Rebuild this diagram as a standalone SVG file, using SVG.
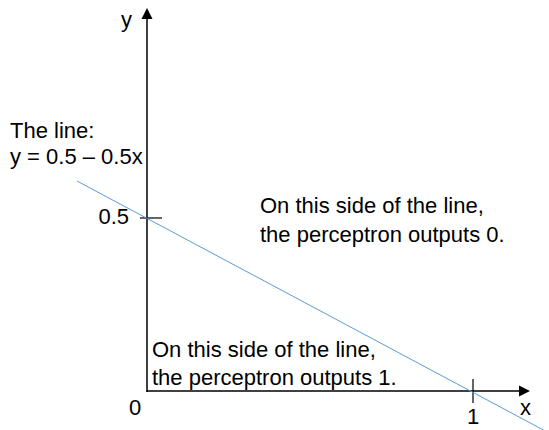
<svg xmlns="http://www.w3.org/2000/svg" width="549" height="430" viewBox="0 0 549 430">
<defs>
<style>
text{font-family:"Liberation Sans",Arial,sans-serif;font-size:22px;fill:#000}
.axis{stroke:#000;stroke-width:1.5;fill:none}
.tick{stroke:#000;stroke-width:1.2}
.line{stroke:#5b9bd5;stroke-width:1;fill:none}
.head{fill:#000}
</style>
</defs>
<rect width="549" height="430" fill="#fff"/>
<g id="connectors">
<line id="y-axis" class="axis" x1="147" y1="392" x2="147" y2="16"/>
<path class="head" d="M141.5,19 L147,8 L152.5,19 Z"/>
<line id="x-axis" class="axis" x1="146.5" y1="391" x2="522" y2="391"/>
<path class="head" d="M519,385.5 L530,391 L519,396.5 Z"/>
<line class="tick" x1="140" y1="218" x2="162" y2="218"/>
<line class="tick" x1="473" y1="379" x2="473" y2="403"/>
<line id="decision-line" class="line" x1="77" y1="181" x2="549" y2="433"/>
</g>
<g id="label-y"><text x="121" y="27">y</text></g>
<g id="label-x"><text x="520" y="415">x</text></g>
<g id="label-0"><text x="129" y="415">0</text></g>
<g id="label-1"><text x="467" y="424">1</text></g>
<g id="label-05"><text x="129" y="224" text-anchor="end">0.5</text></g>
<g id="line-eq">
<text x="10" y="138">The line:</text>
<text x="10" y="164">y = 0.5 – 0.5x</text>
</g>
<g id="region-0">
<text x="260" y="213">On this side of the line,</text>
<text x="260" y="242">the perceptron outputs 0.</text>
</g>
<g id="region-1">
<text x="152" y="357">On this side of the line,</text>
<text x="152" y="385">the perceptron outputs 1.</text>
</g>
</svg>
